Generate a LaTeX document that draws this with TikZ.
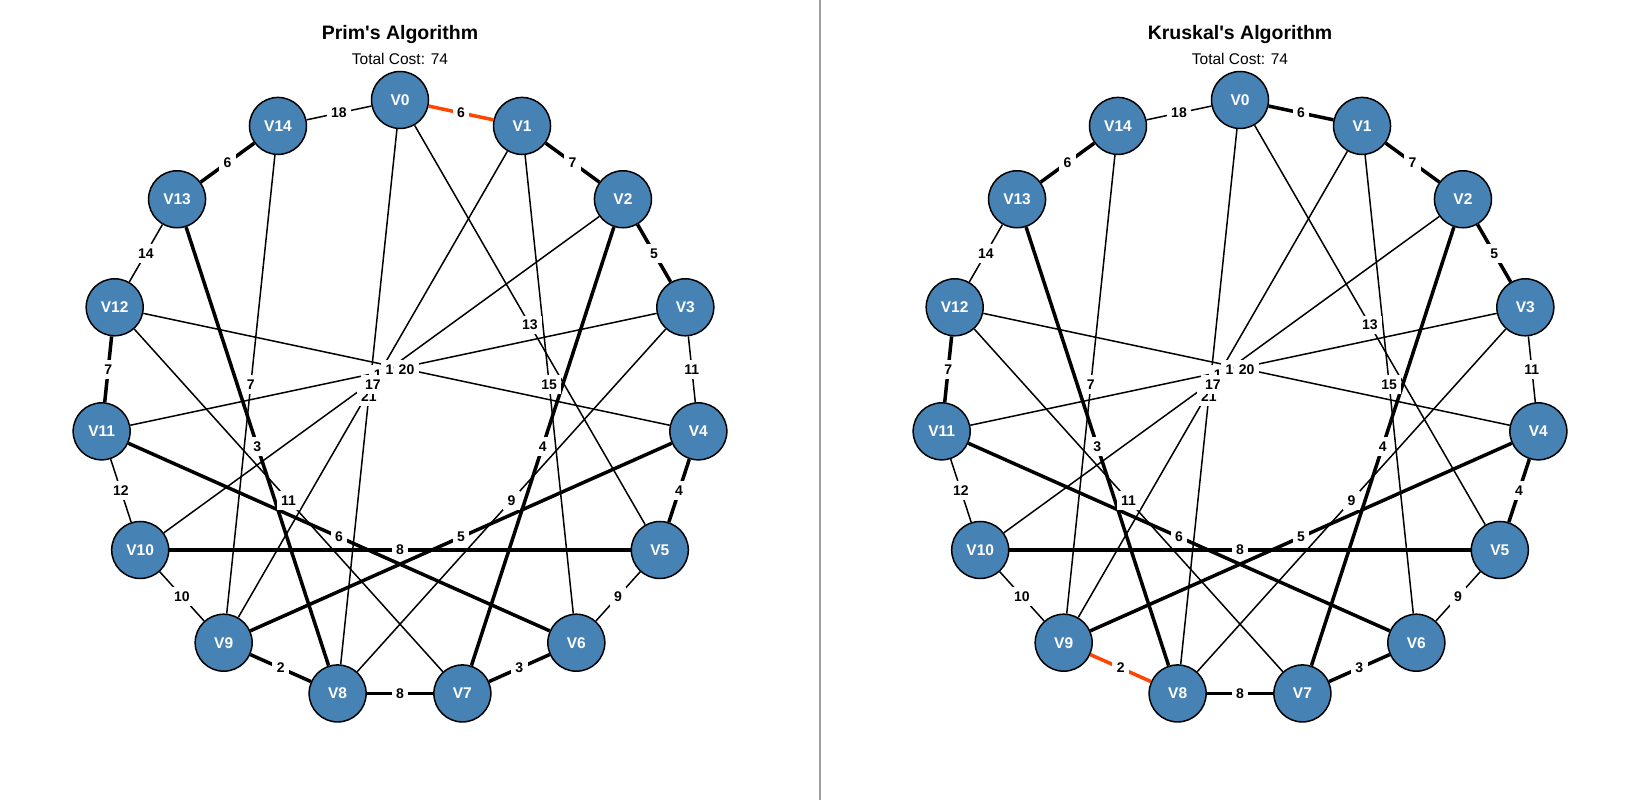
\documentclass[tikz,border=0pt]{standalone}
\usepackage{fontspec}
\setmainfont{Liberation Sans}
\usetikzlibrary{automata}
\definecolor{steelblue}{RGB}{70,130,180}
\definecolor{orangered}{RGB}{255,69,0}

% from/to/weight/style
\def\mstedges{2/10/16/graphedge, 3/11/19/graphedge,
  0/1/6/pstart, 1/2/7/treeedge, 2/3/5/treeedge, 3/4/11/graphedge,
  4/5/4/treeedge, 5/6/9/graphedge, 6/7/3/treeedge, 7/8/8/treeedge,
  8/9/2/kstart, 9/10/10/graphedge, 10/11/12/graphedge, 11/12/7/treeedge,
  12/13/14/graphedge, 13/14/6/treeedge, 14/0/18/graphedge,
  0/5/13/graphedge, 1/6/15/graphedge, 2/7/4/treeedge, 3/8/9/graphedge,
  4/9/5/treeedge, 5/10/8/treeedge, 6/11/6/treeedge, 7/12/11/graphedge,
  8/13/3/treeedge, 9/14/7/graphedge, 0/8/21/graphedge, 1/9/17/graphedge,
  4/12/20/graphedge}

\begin{document}
\begin{tikzpicture}[x=1pt,y=1pt]
  \tikzstyle{every state}=[fill=steelblue,draw=black,line width=1.5pt,text=white,
                           minimum size=57pt,inner sep=0pt,
                           font=\fontsize{15.5}{18}\selectfont\bfseries]
  \tikzstyle{graphedge}=[line width=1.5pt]
  \tikzstyle{treeedge}=[line width=3.5pt]
  \tikzstyle{hiedge}=[line width=3.5pt,draw=orangered]
  \tikzstyle{weight}=[fill=white,inner sep=4.5pt,
                      font=\fontsize{14}{16}\selectfont\bfseries]

  \useasboundingbox (0,0) rectangle (1640,800);
  \draw[gray!75,line width=2pt] (820,0) -- (820,800);

  \foreach \pre/\dx/\algo/\sp/\sk in {p/400/Prim/hiedge/treeedge,
                                      k/1240/Kruskal/treeedge/hiedge}{
    \begin{scope}[shift={(\dx,400)},pstart/.style={\sp},kstart/.style={\sk}]
      \node[anchor=base,font=\fontsize{19.5}{22}\selectfont\bfseries] (\pre title)
        at (0,360) {\algo\textquotesingle s Algorithm};
      \node[anchor=base,font=\fontsize{15.5}{18}\selectfont] (\pre cost)
        at (0,335) {Total Cost: 74};

      \foreach \i in {0,...,14}
        \node[state] (\pre\i) at ({90-24*\i}:300) {V\i};

      \foreach \a/\b/\w/\s in \mstedges
        \draw[\s] (\pre\a) -- (\pre\b);
      \foreach \a/\b/\w/\s in \mstedges
        \path (\pre\a) -- node[weight] {\w} (\pre\b);
    \end{scope}
  }
\end{tikzpicture}
\end{document}
